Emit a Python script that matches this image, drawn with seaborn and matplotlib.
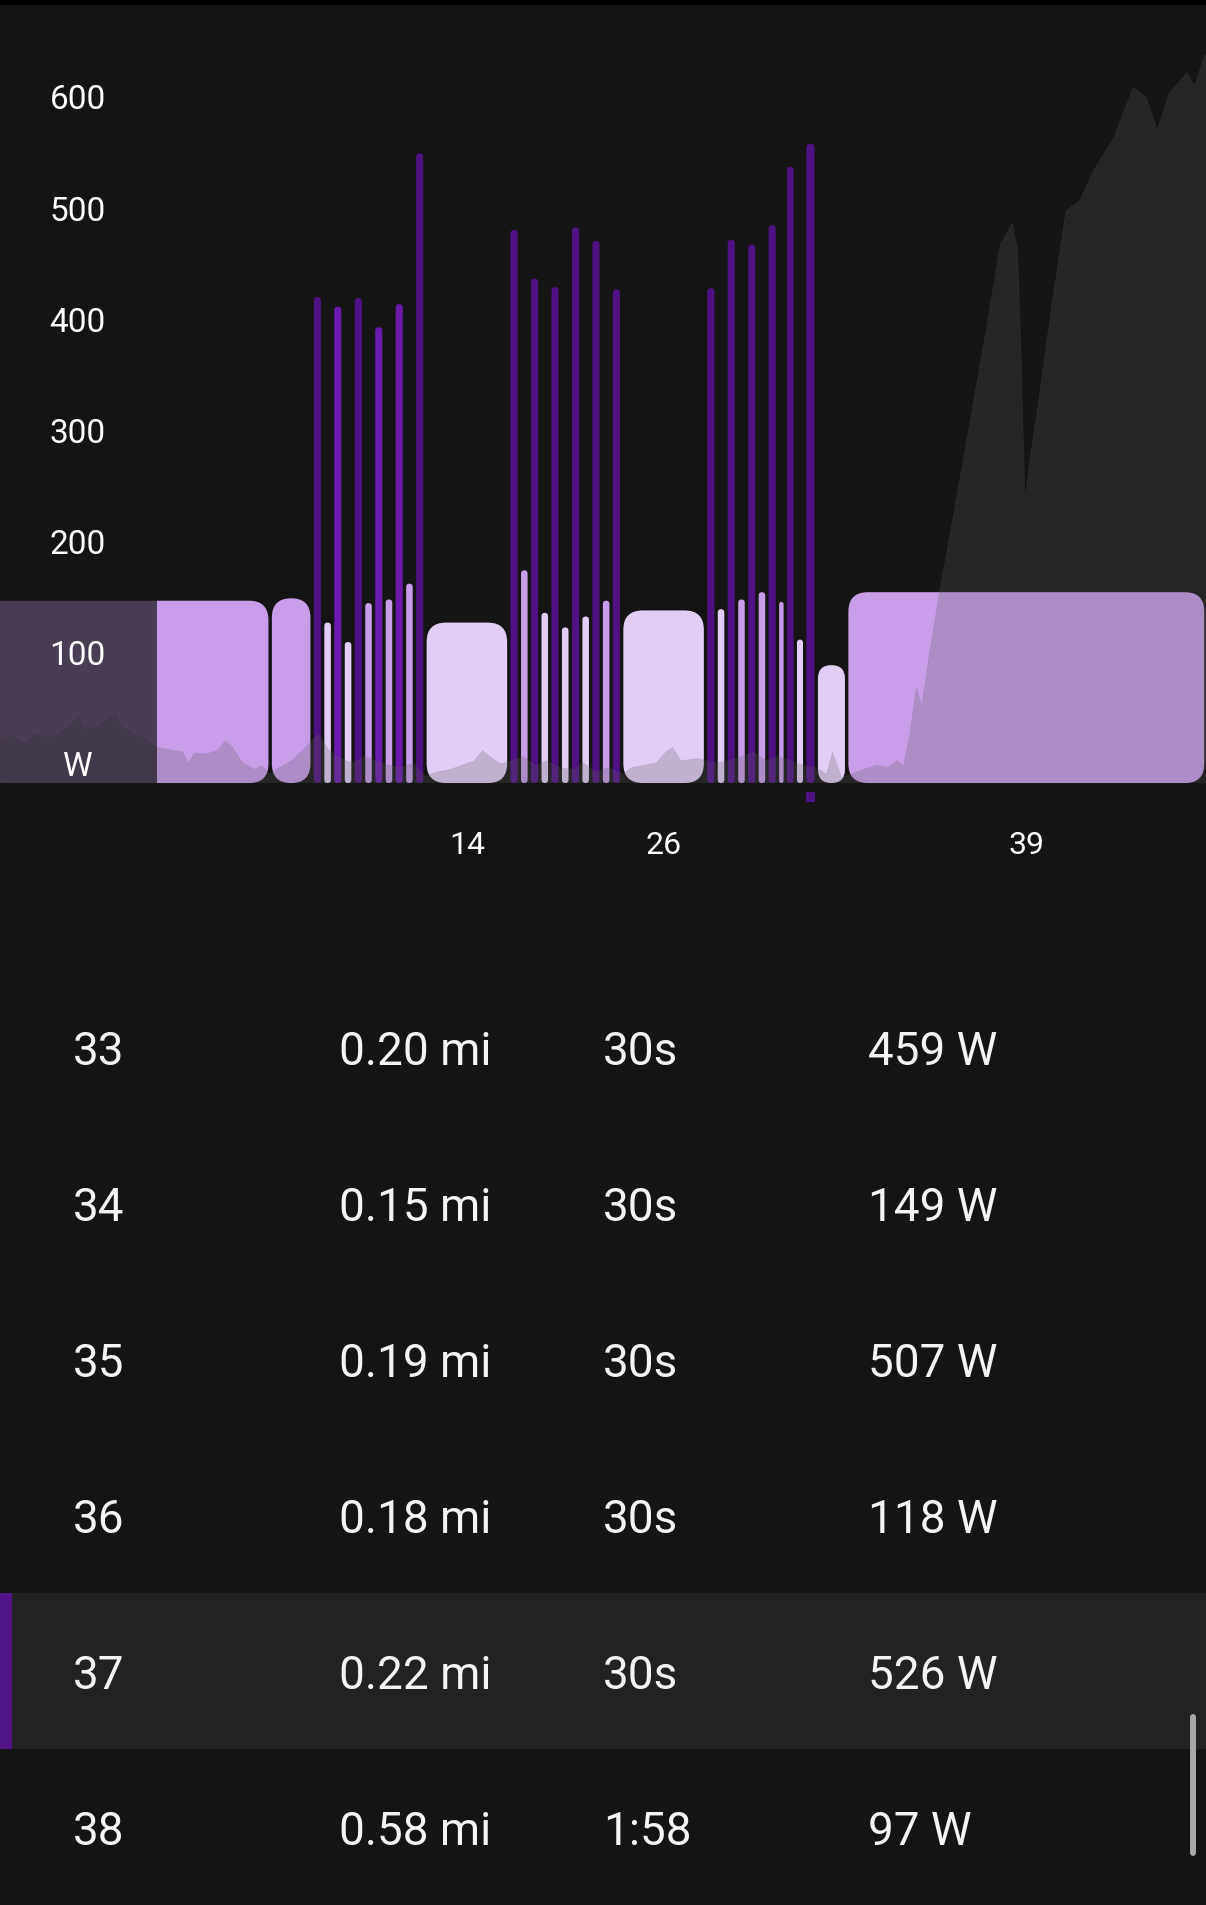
import numpy as np
import pandas as pd
import matplotlib
matplotlib.use("Agg")
import matplotlib.pyplot as plt
import matplotlib.transforms as mtransforms
from matplotlib.patches import FancyBboxPatch, Rectangle
from matplotlib.lines import Line2D
import seaborn as sns

# lap data (distance in miles, average power in W)
lap_no = list(range(1, 40))
lap_mi = [5.50, 0.80,
          0.20, 0.19, 0.20, 0.19, 0.20, 0.19, 0.20, 0.19, 0.20, 0.19, 0.20,
          1.60,
          0.20, 0.19, 0.20, 0.19, 0.20, 0.19, 0.20, 0.19, 0.20, 0.19, 0.20,
          1.60,
          0.20, 0.19, 0.20, 0.19, 0.20, 0.19,
          0.20, 0.15, 0.19, 0.18, 0.22, 0.58,
          6.85]
lap_watts = [150, 152, 400, 132, 392, 116, 399, 148, 375, 151, 394, 164, 518,
             132, 455, 175, 415, 140, 408, 128, 457, 137, 446, 150, 406,
             142, 407, 143, 447, 151, 443, 157,
             459, 149, 507, 118, 526, 97, 157]
labeled_laps = [14, 26, 39]
selected_lap = 37
view_start = 0.35  # chart is scrolled slightly, lap 1 starts off screen

# background trace (distance in miles, value on the W axis)
trace_mi = [0.00, 0.35, 0.58, 0.81, 1.05, 1.28, 1.51, 1.69, 1.83, 1.97, 2.20, 2.39, 2.55,
            2.67, 2.90, 3.13, 3.34, 3.59, 3.83, 3.94, 4.06, 4.29, 4.52, 4.64, 4.75,
            4.98, 5.22, 5.33, 5.49, 5.68, 5.91, 6.14, 6.33, 6.42, 6.61, 6.84, 7.07,
            7.30, 7.53, 7.77, 8.00, 8.23, 8.46, 8.69, 8.92, 9.16, 9.39, 9.55, 9.74,
            9.90, 10.08, 10.32, 10.55, 10.78, 11.01, 11.24, 11.47, 11.71, 11.94, 12.22,
            12.40, 12.63, 12.86, 13.05, 13.17, 13.33, 13.65, 14.02, 14.25, 14.49,
            14.72, 14.95, 15.18, 15.41, 15.65, 15.88, 16.11, 16.22, 16.39, 16.57,
            16.80, 17.06, 17.27, 17.45, 17.57, 17.68, 17.82, 17.92, 18.08, 18.26,
            18.54, 18.84, 19.12, 19.42, 19.65, 19.75, 19.82, 19.89, 19.98, 20.12,
            20.40, 20.67, 20.93, 21.18, 21.58, 21.95, 22.20, 22.41, 22.64, 22.97,
            23.13, 23.29, 23.34]
trace_w = [36, 38, 42, 36, 44, 40, 46, 52, 60, 48, 50, 58, 62,
           50, 44, 40, 32, 30, 28, 18, 27, 26, 30, 38, 34,
           18, 12, 16, 8, 14, 20, 30, 40, 44, 30, 22, 18,
           24, 20, 16, 14, 18, 6, 10, 12, 16, 20, 29, 22,
           17, 20, 24, 16, 20, 14, 12, 18, 10, 14, 8,
           14, 16, 18, 28, 32, 20, 22, 18, 20, 24,
           28, 20, 24, 20, 16, 14, 8, 28, 5, 8,
           12, 16, 14, 20, 15, 40, 86, 69, 120, 172,
           245, 325, 400, 485, 504, 479, 380, 254, 290, 334,
           430, 515, 524, 550, 581, 626, 617, 588, 621, 639,
           628, 652, 656]
y_ticks = [0, 100, 200, 300, 400, 500, 600]
y_labels = ["W", "100", "200", "300", "400", "500", "600"]

# table rows shown under the chart
table_laps = [33, 34, 35, 36, 37, 38]
table_times = ["30s", "30s", "30s", "30s", "30s", "1:58"]

BG = "#141414"
sns.set_theme(style="dark", rc={"axes.facecolor": BG, "figure.facecolor": BG})
plt.rcParams["font.family"] = ["Roboto", "DejaVu Sans"]


def zone_color(w):
    if w >= 396:
        return "#4f1284"
    if w >= 300:
        return "#6a1aac"
    if w >= 145:
        return "#c89eea"
    return "#e2cdf5"


df = pd.DataFrame({"lap": lap_no, "mi": lap_mi, "watts": lap_watts})
df["start"] = df["mi"].cumsum() - df["mi"]
df["mid"] = df["start"] + df["mi"] / 2
total = df["mi"].sum()

W, H = 1206, 1906
fig = plt.figure(figsize=(W / 100, H / 100), dpi=100)


def fy(y):
    return 1 - y / 1568


ax_top, ax_bot = 5, 672
ax = fig.add_axes([0, fy(ax_bot), 1, (ax_bot - ax_top) / 1568])
ax.set_xlim(view_start, total)
ax.set_ylim(-27, 640)
ax.grid(False)
for s in ax.spines.values():
    s.set_visible(False)

# pixel aspect so the rounded corners stay round
px_x = W / (total - view_start)
px_y = H * (ax_bot - ax_top) / 1568 / (640 + 27)
aspect = px_x / px_y

gap = 0.065
for _, r in df.iterrows():
    w = r["mi"] - gap
    rad = min(0.37, w / 2)
    box = FancyBboxPatch((r["start"] + gap / 2, 0), w, r["watts"],
                         boxstyle=f"round,pad=0,rounding_size={rad}",
                         mutation_aspect=aspect, fc=zone_color(r["watts"]),
                         ec="none", zorder=2)
    ax.add_patch(box)

sel = df[df["lap"] == selected_lap].iloc[0]
ax.bar(sel["mid"], -9, bottom=-7, width=0.16, color="#4f1284",
       ec="none", lw=0, zorder=2)

ticks = df[df["lap"].isin(labeled_laps)]
ax.set_xticks(ticks["mid"])
ax.set_xticklabels([str(v) for v in ticks["lap"]])
ax.tick_params(axis="x", length=0, pad=10, labelsize=23, labelcolor="white")
ax.set_yticks([])

# background trace on its own scale
ratio = 0.914
ax2 = ax.twinx()
ax2.set_ylim(-27 / ratio, 640 / ratio)
ax2.grid(False)
ax2.set_yticks([])
for s in ax2.spines.values():
    s.set_visible(False)
ax2.fill_between(trace_mi, 0, trace_w, color="#5e5e5e", alpha=0.25, lw=0, zorder=3)
sns.lineplot(x=trace_mi, y=trace_w, ax=ax2, color="#5e5e5e", alpha=0.15, lw=0.6, zorder=3)

# dimmed panel behind the y labels
ax2.add_patch(Rectangle((0, 0), 129 / 992, 1, transform=ax2.transAxes,
                        fc=BG, alpha=0.7, lw=0, zorder=5))
lab_tr = mtransforms.offset_copy(
    mtransforms.blended_transform_factory(ax2.transAxes, ax2.transData),
    fig=fig, y=14 * H / 1568, units="dots")
for v, t in zip(y_ticks, y_labels):
    ax2.text(64 / 992, v, t, transform=lab_tr, ha="center", va="center",
             fontsize=24, color="white", zorder=6)

# top strip
fig.add_artist(Rectangle((0, fy(5)), 1, 5 / 1568, transform=fig.transFigure,
                         fc="black", lw=0))

# table
row0, row_h = 862, 128.4
for i, lap in enumerate(table_laps):
    r = df[df["lap"] == lap].iloc[0]
    yc = row0 + row_h * i
    if lap == selected_lap:
        fig.add_artist(Rectangle((0, fy(yc + 64)), 1, 128 / 1568,
                                 transform=fig.transFigure, fc="#222222", lw=0))
        fig.add_artist(Rectangle((0, fy(yc + 64)), 10 / 992, 128 / 1568,
                                 transform=fig.transFigure, fc="#521489", lw=0))
    yb = fy(yc + 14)
    cells = [str(lap), f"{r['mi']:.2f} mi", table_times[i], f"{int(r['watts'])} W"]
    for x, txt in zip([60, 279, 496, 714], cells):
        fig.text(x / 992, yb, txt, ha="left", va="baseline", fontsize=33,
                 color="#f4f4f4")

# scrollbar
fig.add_artist(Line2D([981.5 / 992] * 2, [fy(1413), fy(1525)],
                      transform=fig.transFigure, lw=4.3, color="#a8a8a8",
                      solid_capstyle="round"))

fig.savefig("out.png", dpi=100, facecolor=fig.get_facecolor())
